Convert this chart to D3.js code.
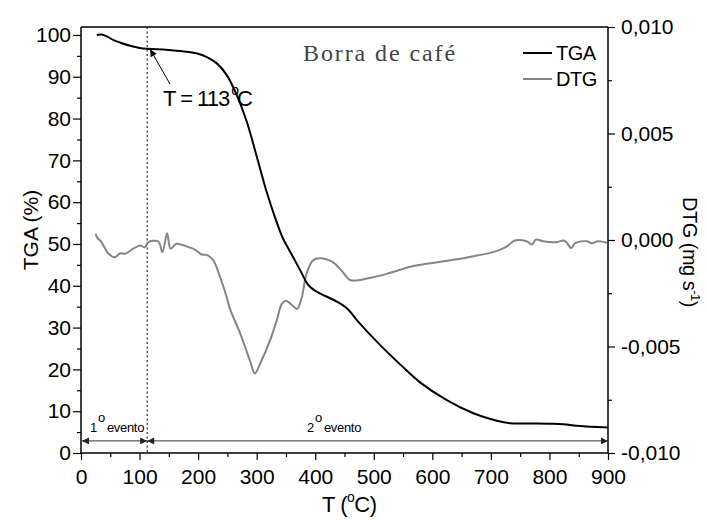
<!DOCTYPE html>
<html><head><meta charset="utf-8">
<script src="https://cdn.jsdelivr.net/npm/d3@7"></script>
<style>
body{margin:0;background:#fff;}
</style></head>
<body><svg id="c" width="707" height="520" font-family="Liberation Sans, Arial, sans-serif"></svg>
<script>
// TGA curve (T in °C, mass %)
const tgaT = [27,35,45,55,70,84,100,113,130,150,180,200,215,232,249,266,283,300,317,331,345,357,374,388,398,408,437,454,476,511,545,579,624,670,710,733,767,800,824,846,870,900];
const tgaV = [100,100.1,99.6,98.8,98.0,97.4,96.9,96.7,96.6,96.4,96.0,95.5,94.7,93.2,90.4,85.6,79.3,71.0,62.5,56.5,51.3,48.2,43.8,40.2,39.0,38.2,36.2,34.6,31.0,25.8,21.2,16.9,12.7,9.5,7.7,7.1,7.05,7.0,6.9,6.5,6.3,6.1];
// DTG curve (T in °C, mg/s)
const dtgT = [25,28,35,47,58,67,75,89,101,109,115,132,139,147,153,163,180,195,206,215,226,237,249,254,272,289,297,306,323,334,343,350,362,369,377,385,396,408,430,445,459,471,493,522,545,556,573,600,619,650,676,704,727,741,761,770,777,789,812,824,829,837,844,864,872,883,898];
const dtgV = [0.00029,0.0001,-0.0001,-0.00065,-0.00081,-0.00062,-0.00065,-0.00041,-0.00026,-0.00034,-0.0001,-0.00007,-0.00057,0.00032,-0.00041,-0.00018,-0.0003,-0.00046,-0.00068,-0.0007,-0.00096,-0.0017,-0.0027,-0.0032,-0.0044,-0.0057,-0.00627,-0.0058,-0.0047,-0.0038,-0.003,-0.00285,-0.0031,-0.00324,-0.0027,-0.0016,-0.00096,-0.00086,-0.00104,-0.00144,-0.00187,-0.0019,-0.00178,-0.00159,-0.0014,-0.0013,-0.0012,-0.00108,-0.001,-0.00087,-0.00073,-0.00057,-0.00031,-0.00002,-0.00006,-0.00021,0.00002,-0.00006,-0.0001,-0.00002,-0.0001,-0.00038,-0.00015,-0.00006,-0.00015,-0.00006,-0.00013];
const xTicks = [0,100,200,300,400,500,600,700,800,900];
const xMinor = [50,150,250,350,450,550,650,750,850];
const yLTicks = [0,10,20,30,40,50,60,70,80,90,100];
const yLMinor = [5,15,25,35,45,55,65,75,85,95];
const yRTicks = [-0.010,-0.005,0,0.005,0.010];
const yRMinor = [-0.0075,-0.0025,0.0025,0.0075];
const eventT = 113;
const legendNames = ["TGA","DTG"];

const L=81,R=608,T0=27,B=453;
const svg=d3.select("#c");
const x=d3.scaleLinear().domain([0,900]).range([L,R]);
const yL=d3.scaleLinear().domain([0,101.9]).range([B,T0]);
const yR=d3.scaleLinear().domain([-0.010,0.010]).range([B,T0]);

const defs=svg.append("defs");
function mk(id,color,w,h){
  defs.append("marker").attr("id",id).attr("viewBox","0 0 10 10").attr("refX",10).attr("refY",5)
   .attr("markerWidth",w).attr("markerHeight",h).attr("markerUnits","userSpaceOnUse").attr("orient","auto-start-reverse")
   .append("path").attr("d","M0,0L10,5L0,10Z").attr("fill",color);
}
mk("ah","#222",11,7);
mk("ah2","#000",9,7);

svg.append("line").attr("x1",L).attr("x2",R).attr("y1",T0).attr("y2",T0).attr("stroke","#000").attr("stroke-width",1.5);

const fmtR=v=>d3.format(".3f")(v).replace(".",",").replace("−","-");
svg.append("g").attr("transform",`translate(${L},0)`)
 .call(d3.axisLeft(yL).tickValues(yLTicks).tickSize(8).tickPadding(2).tickFormat(d3.format("d")));
svg.append("g").attr("transform",`translate(${L},0)`).call(d3.axisLeft(yL).tickValues(yLMinor).tickSize(4).tickFormat(""));
svg.append("g").attr("transform",`translate(0,${B})`)
 .call(d3.axisBottom(x).tickValues(xTicks).tickSize(7).tickPadding(9).tickFormat(d3.format("d")));
svg.append("g").attr("transform",`translate(0,${B})`).call(d3.axisBottom(x).tickValues(xMinor).tickSize(4).tickFormat(""));
svg.append("g").attr("transform",`translate(${R},0)`)
 .call(d3.axisRight(yR).tickValues(yRTicks).tickSize(7).tickPadding(6).tickFormat(fmtR));
svg.append("g").attr("transform",`translate(${R},0)`).call(d3.axisRight(yR).tickValues(yRMinor).tickSize(4).tickFormat(""));
svg.selectAll(".tick line").attr("stroke","#000").attr("stroke-width",1.2);
svg.selectAll(".tick text").attr("font-size",21).attr("fill","#000").attr("font-family","Liberation Sans, Arial, sans-serif");
svg.selectAll(".domain").remove();
svg.append("line").attr("x1",L).attr("x2",L).attr("y1",T0).attr("y2",B).attr("stroke","#000").attr("stroke-width",1.5);
svg.append("line").attr("x1",R).attr("x2",R).attr("y1",T0).attr("y2",B).attr("stroke","#000").attr("stroke-width",1.5);
svg.append("line").attr("x1",L).attr("x2",R).attr("y1",B).attr("y2",B).attr("stroke","#000").attr("stroke-width",1.5);

svg.append("line").attr("x1",x(eventT)).attr("x2",x(eventT)).attr("y1",T0).attr("y2",B)
 .attr("stroke","#000").attr("stroke-width",1).attr("stroke-dasharray","2,2.5");

const tgaData=tgaT.map((t,i)=>[t,tgaV[i]]);
const dtgData=dtgT.map((t,i)=>[t,dtgV[i]]);
svg.append("path").datum(dtgData).attr("fill","none").attr("stroke","#858585").attr("stroke-width",2)
 .attr("d",d3.line().x(d=>x(d[0])).y(d=>yR(d[1])).curve(d3.curveCatmullRom.alpha(0.5)));
svg.append("path").datum(tgaData).attr("fill","none").attr("stroke","#000").attr("stroke-width",2)
 .attr("d",d3.line().x(d=>x(d[0])).y(d=>yL(d[1])).curve(d3.curveCatmullRom.alpha(0.5)));

const yEv=yL(2.9);
svg.append("line").attr("x1",x(eventT)).attr("x2",L+1).attr("y1",yEv).attr("y2",yEv)
 .attr("stroke","#333").attr("stroke-width",1).attr("marker-start","url(#ah)").attr("marker-end","url(#ah)");
svg.append("line").attr("x1",x(eventT)).attr("x2",R).attr("y1",yEv).attr("y2",yEv)
 .attr("stroke","#333").attr("stroke-width",1).attr("marker-start","url(#ah)").attr("marker-end","url(#ah)");

function evLabel(xp,num){
  const t=svg.append("text").attr("x",xp).attr("y",432).attr("font-size",13).attr("fill","#000").attr("letter-spacing","-0.3");
  t.append("tspan").text(num);
  t.append("tspan").attr("dy",-10).attr("dx",1).text("o");
  t.append("tspan").attr("dy",10).attr("dx",2).text("evento");
}
evLabel(90,"1");
evLabel(307,"2");

svg.append("line").attr("x1",170).attr("y1",84).attr("x2",x(eventT)+3).attr("y2",yL(96.8)+1)
 .attr("stroke","#000").attr("stroke-width",1).attr("marker-end","url(#ah2)");
const at=svg.append("text").attr("x",163).attr("y",106).attr("font-size",22).attr("letter-spacing","-1").attr("fill","#000");
at.append("tspan").text("T = 113");
at.append("tspan").attr("dy",-11).attr("font-size",14).attr("dx",2).text("o");
at.append("tspan").attr("dy",11).attr("dx",-1).text("C");

svg.append("text").attr("x",303).attr("y",61).style("font-family","'Liberation Serif','Times New Roman',serif")
 .attr("font-size",24).attr("letter-spacing","1.9").attr("fill","#444").text("Borra de café");

const legColors=["#000","#858585"];
legendNames.forEach((n,i)=>{
  const yy=53+i*26;
  svg.append("line").attr("x1",523).attr("x2",552).attr("y1",yy).attr("y2",yy).attr("stroke",legColors[i]).attr("stroke-width",2);
  svg.append("text").attr("x",556).attr("y",yy+7).attr("font-size",20).attr("letter-spacing","-0.5").attr("fill","#000").text(n);
});

svg.append("text").attr("transform","translate(38,230) rotate(-90)").attr("text-anchor","middle")
 .attr("font-size",21).attr("fill","#000").text("TGA (%)");
const xt=svg.append("text").attr("x",322).attr("y",512).attr("font-size",22).attr("fill","#000").attr("letter-spacing","-0.5");
xt.append("tspan").text("T (");
xt.append("tspan").attr("dy",-10).attr("font-size",14).text("o");
xt.append("tspan").attr("dy",10).text("C)");
const rt=svg.append("text").attr("transform","translate(683,197) rotate(90)")
 .attr("font-size",20).attr("fill","#000").attr("letter-spacing","-0.5");
rt.append("tspan").text("DTG (mg s");
rt.append("tspan").attr("dy",-8).attr("font-size",13).text("-1");
rt.append("tspan").attr("dy",8).text(")");
</script></body></html>
